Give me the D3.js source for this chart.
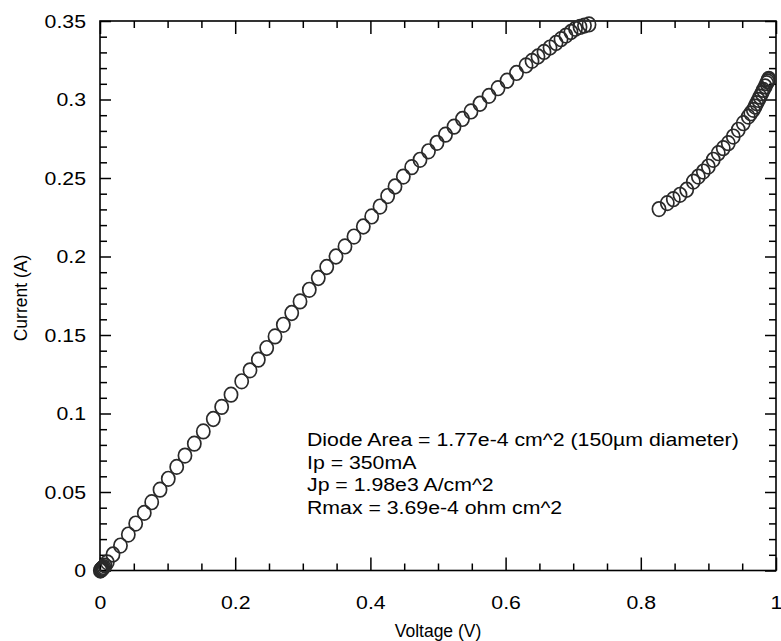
<!DOCTYPE html>
<html><head><meta charset="utf-8">
<script src="https://cdn.jsdelivr.net/npm/d3@7"></script>
<style>body{margin:0;background:#fff}svg{display:block}text{font-family:"Liberation Sans",Arial,Helvetica,sans-serif}</style>
</head><body><svg id="c" width="781" height="641"></svg>
<script>
const voltage1 = [0.0005,0.0012,0.0020,0.0030,0.0042,0.0056,0.0075,0.0108,0.0192,0.0303,0.0419,0.0528,0.0655,0.0765,0.0888,0.1010,0.1135,0.1257,0.1395,0.1528,0.1676,0.1800,0.1938,0.2096,0.2219,0.2342,0.2466,0.2589,0.2712,0.2836,0.2959,0.3096,0.3229,0.3354,0.3491,0.3624,0.3757,0.3895,0.4019,0.4142,0.4255,0.4364,0.4487,0.4611,0.4734,0.4859,0.4985,0.5111,0.5237,0.5362,0.5488,0.5621,0.5754,0.5888,0.6021,0.6161,0.6302,0.6391,0.6479,0.6568,0.6657,0.6746,0.6820,0.6893,0.6967,0.7034,0.7101,0.7167,0.7234];
const current1 = [0.0000,0.0003,0.0007,0.0011,0.0016,0.0022,0.0031,0.0052,0.0102,0.0159,0.0229,0.0299,0.0367,0.0435,0.0515,0.0584,0.0660,0.0732,0.0808,0.0886,0.0965,0.1042,0.1120,0.1205,0.1275,0.1343,0.1417,0.1491,0.1565,0.1640,0.1714,0.1788,0.1863,0.1933,0.2000,0.2064,0.2127,0.2191,0.2255,0.2318,0.2385,0.2446,0.2509,0.2569,0.2616,0.2670,0.2724,0.2776,0.2827,0.2876,0.2924,0.2973,0.3023,0.3072,0.3120,0.3169,0.3217,0.3246,0.3274,0.3303,0.3331,0.3360,0.3384,0.3407,0.3430,0.3450,0.3462,0.3471,0.3478];
const voltage2 = [0.8269,0.8392,0.8481,0.8580,0.8679,0.8777,0.8851,0.8925,0.8999,0.9072,0.9146,0.9220,0.9294,0.9368,0.9442,0.9516,0.9590,0.9627,0.9664,0.9690,0.9714,0.9740,0.9763,0.9790,0.9812,0.9840,0.9862,0.9876,0.9886,0.9893];
const current2 = [0.2302,0.2340,0.2365,0.2393,0.2425,0.2477,0.2509,0.2541,0.2573,0.2616,0.2658,0.2690,0.2722,0.2764,0.2807,0.2849,0.2891,0.2912,0.2934,0.2955,0.2976,0.2997,0.3018,0.3040,0.3061,0.3083,0.3104,0.3115,0.3125,0.3132];
const xTicks = [0,0.2,0.4,0.6,0.8,1];
const xTickLabels = ["0","0.2","0.4","0.6","0.8","1"];
const xMinorTicks = [0.05,0.1,0.15,0.25,0.3,0.35,0.45,0.5,0.55,0.65,0.7,0.75,0.85,0.9,0.95];
const yTicks = [0,0.05,0.1,0.15,0.2,0.25,0.3,0.35];
const yTickLabels = ["0","0.05","0.1","0.15","0.2","0.25","0.3","0.35"];
const yMinorTicks = [0.01,0.02,0.03,0.04,0.06,0.07,0.08,0.09,0.11,0.12,0.13,0.14,0.16,0.17,0.18,0.19,0.21,0.22,0.23,0.24,0.26,0.27,0.28,0.29,0.31,0.32,0.33,0.34];
const annotationLines = ["Diode Area = 1.77e-4 cm^2 (150\u00b5m diameter)","Ip = 350mA","Jp = 1.98e3 A/cm^2","Rmax = 3.69e-4 ohm cm^2"];
const xTitle = "Voltage (V)";
const yTitle = "Current (A)";

const W = 781, H = 641;
const m = {l:100, r:5, t:21, b:70.5};
const SX = 1.12;
const x = d3.scaleLinear().domain([0,1]).range([m.l, W - m.r]);
const y = d3.scaleLinear().domain([0,0.35]).range([H - m.b, m.t]);
const svg = d3.select("#c");

function clean(g){
  g.attr("font-size", null).attr("font-family", null);
  g.select(".domain").remove();
  g.selectAll(".tick line").attr("stroke","#000").attr("stroke-width",1.5);
}
// minor ticks
svg.append("g").attr("transform",`translate(0,${y(0)})`).call(d3.axisBottom(x).tickValues(xMinorTicks).tickSize(-7).tickFormat("")).call(clean);
svg.append("g").attr("transform",`translate(0,${y(0.35)})`).call(d3.axisTop(x).tickValues(xMinorTicks).tickSize(-7).tickFormat("")).call(clean);
svg.append("g").attr("transform",`translate(${x(0)},0)`).call(d3.axisLeft(y).tickValues(yMinorTicks).tickSize(-7).tickFormat("")).call(clean);
svg.append("g").attr("transform",`translate(${x(1)},0)`).call(d3.axisRight(y).tickValues(yMinorTicks).tickSize(-7).tickFormat("")).call(clean);
// major ticks
svg.append("g").attr("transform",`translate(0,${y(0)})`)
  .call(d3.axisBottom(x).tickValues(xTicks).tickSize(-13).tickPadding(25).tickFormat((d,i)=>xTickLabels[i]))
  .call(clean)
  .call(g=>g.selectAll("text").attr("font-size",19).attr("fill","#000").attr("transform",`scale(${SX},1)`));
svg.append("g").attr("transform",`translate(0,${y(0.35)})`).call(d3.axisTop(x).tickValues(xTicks).tickSize(-13).tickFormat("")).call(clean);
svg.append("g").attr("transform",`translate(${x(0)},0)`)
  .call(d3.axisLeft(y).tickValues(yTicks).tickSize(-11).tickPadding(14).tickFormat((d,i)=>yTickLabels[i]))
  .call(clean)
  .call(g=>g.selectAll("text").attr("font-size",19).attr("fill","#000").attr("x",-14/SX).attr("transform",`scale(${SX},1)`));
svg.append("g").attr("transform",`translate(${x(1)},0)`).call(d3.axisRight(y).tickValues(yTicks).tickSize(-11).tickFormat("")).call(clean);

// frame
svg.append("rect").attr("x",x(0)).attr("y",y(0.35)).attr("width",x(1)-x(0)).attr("height",y(0)-y(0.35))
  .attr("fill","none").attr("stroke","#000").attr("stroke-width",1.6);

// data
const s1 = voltage1.map((v,i)=>({v, c: current1[i]}));
const s2 = voltage2.map((v,i)=>({v, c: current2[i]}));
svg.append("g").selectAll("ellipse").data(s1.concat(s2)).join("ellipse")
  .attr("cx",d=>x(d.v)).attr("cy",d=>y(d.c)).attr("rx",6.6).attr("ry",7.3)
  .attr("fill","none").attr("stroke","#2a2a2a").attr("stroke-width",1.7);

// annotation
annotationLines.forEach((t,i)=>{
  svg.append("text").attr("transform",`translate(307,${446 + i*22.6}) scale(${SX},1)`)
    .attr("font-size",19).attr("fill","#000").text(t);
});

// titles
svg.append("text").attr("x",438).attr("y",637).attr("text-anchor","middle").attr("font-size",17.5).attr("fill","#000").text(xTitle);
svg.append("text").attr("transform","translate(27,298) rotate(-90)").attr("text-anchor","middle").attr("font-size",17.5).attr("fill","#000").text(yTitle);
</script></body></html>
